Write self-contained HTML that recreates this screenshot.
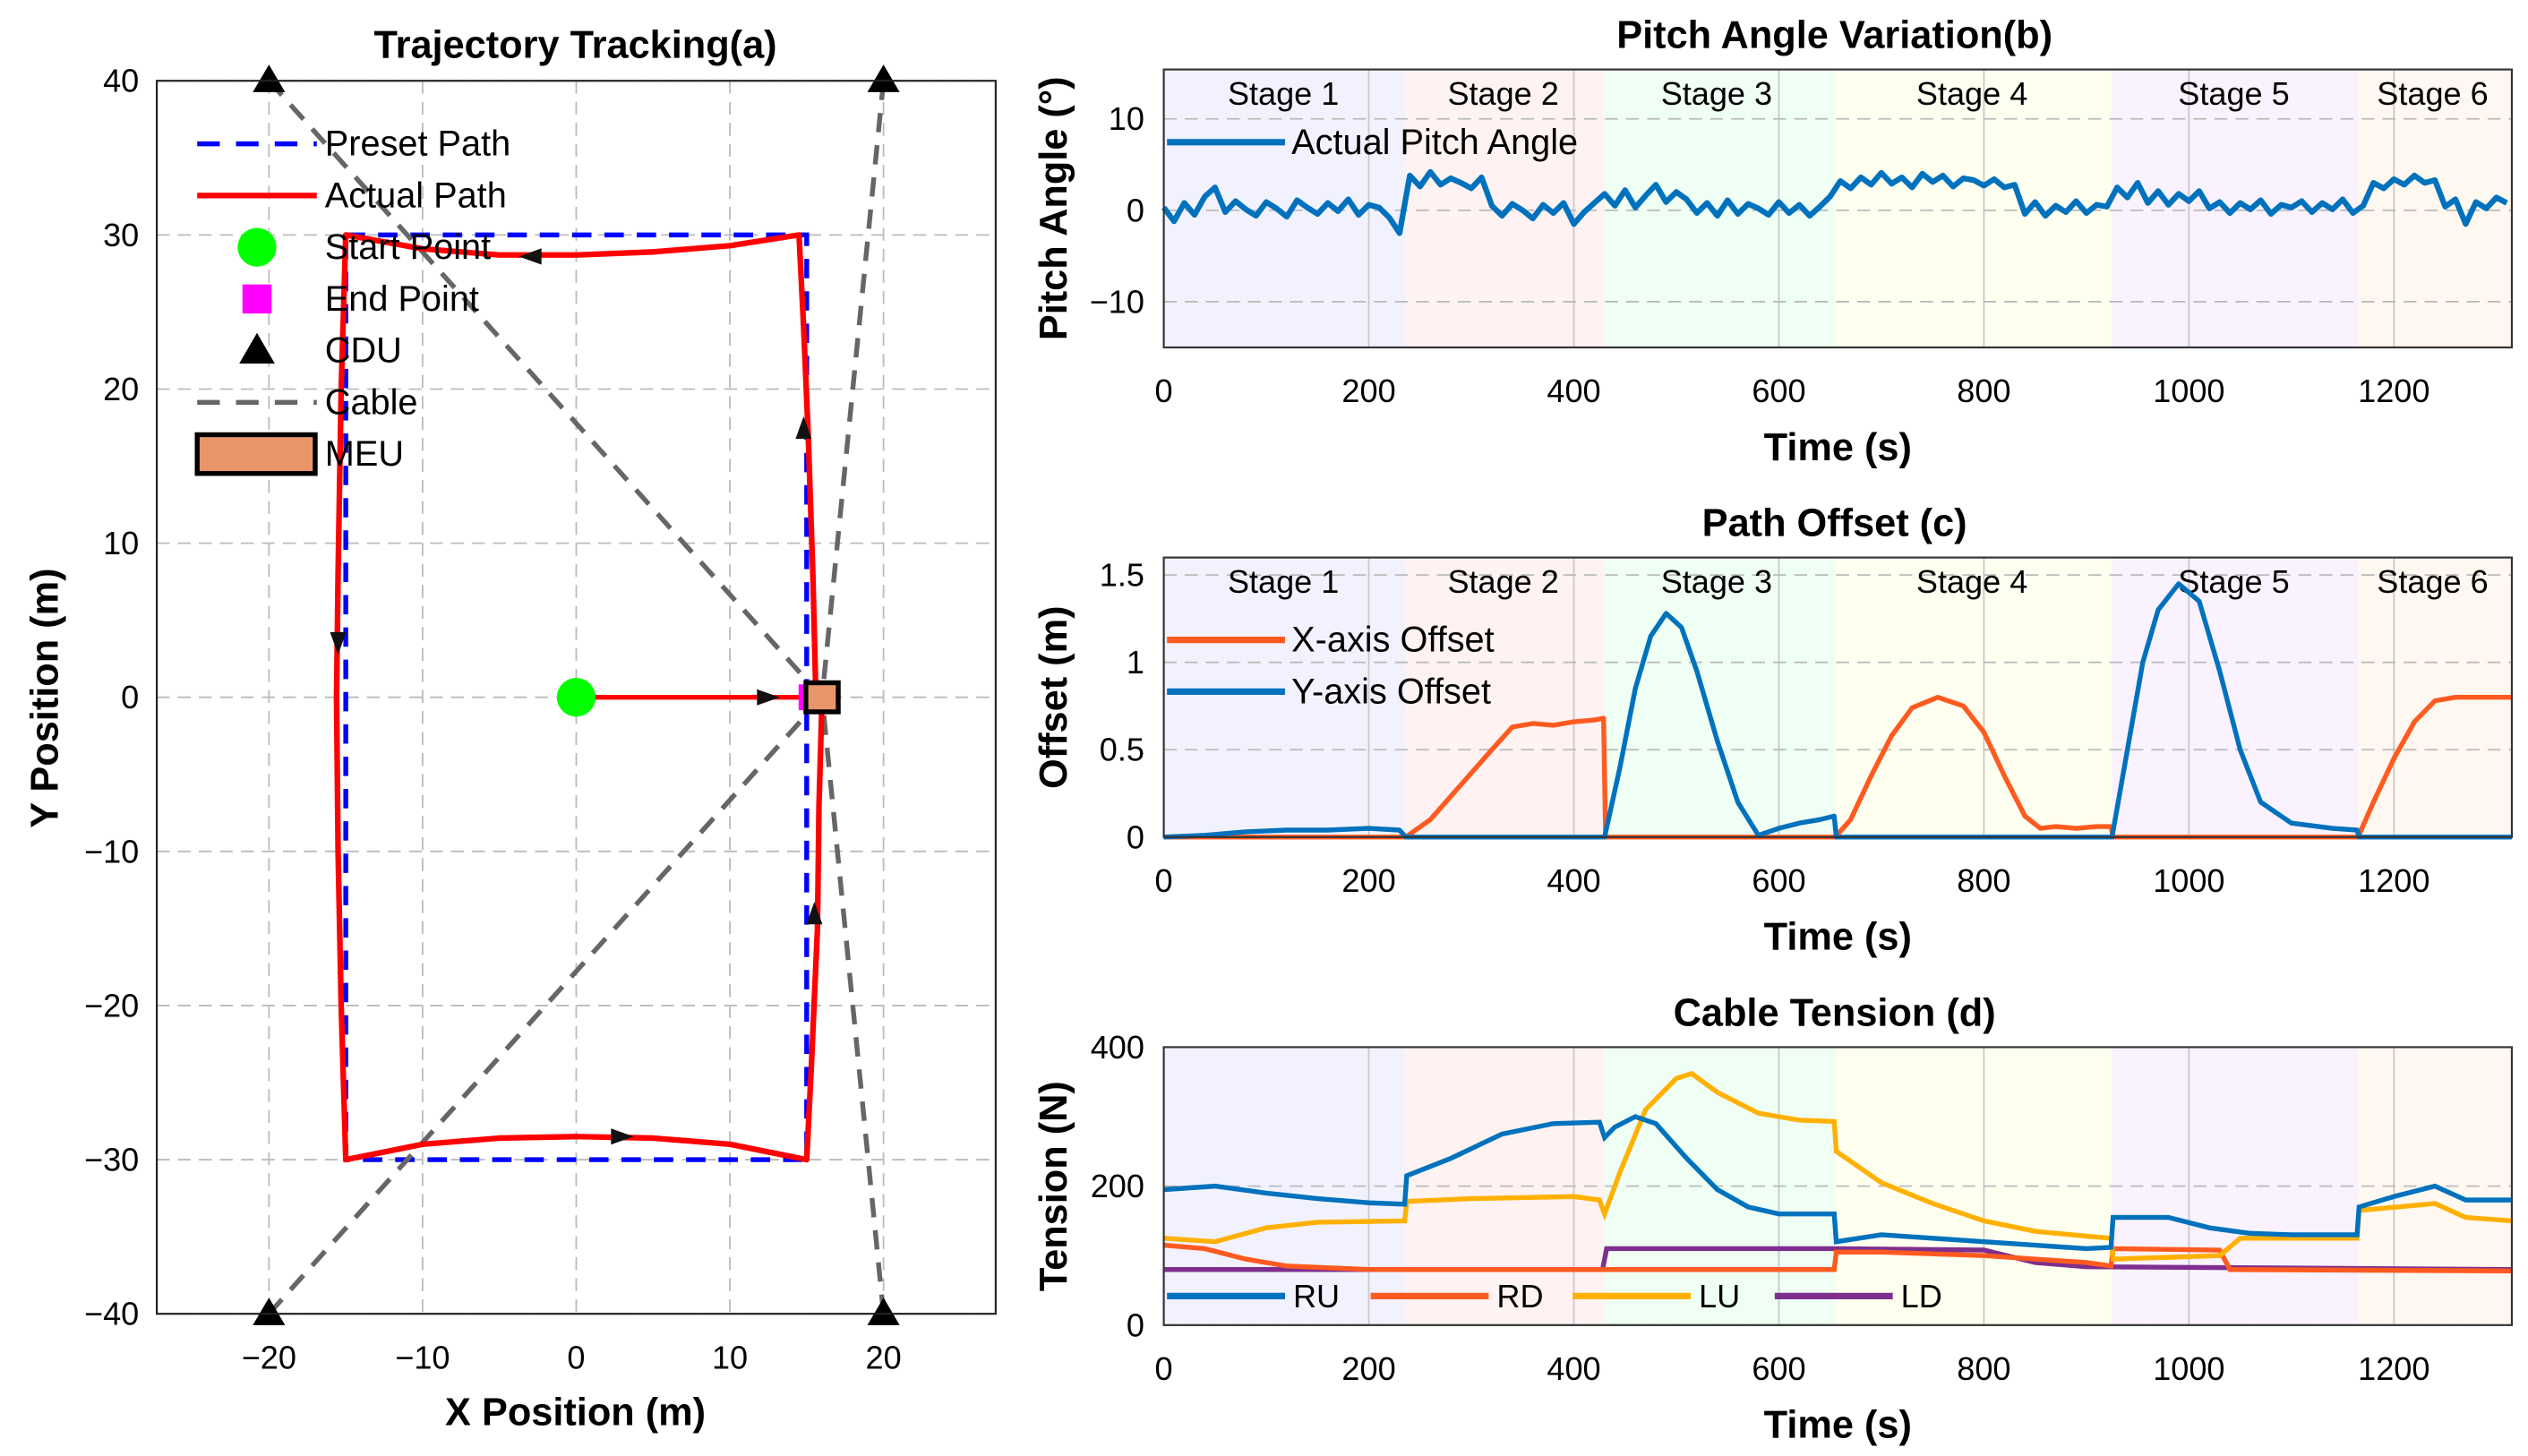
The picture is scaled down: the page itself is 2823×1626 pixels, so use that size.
<!DOCTYPE html>
<html><head><meta charset="utf-8"><style>
html,body{margin:0;padding:0;background:#fff}
svg{display:block;font-family:"Liberation Sans",sans-serif}
</style></head><body>
<svg id="fig" width="2823" height="1626" viewBox="0 0 1564 901" preserveAspectRatio="none" xmlns="http://www.w3.org/2000/svg"></svg>
<script>
// ---------- DATA ----------
const stageNames=["Stage 1","Stage 2","Stage 3","Stage 4","Stage 5","Stage 6"];
const stageBounds=[0,236,430,655,925,1165,1315];
const stageColors=["#f2f2ff","#fff2f2","#efffF4","#fffff0","#faf2ff","#fff8f0"];
const timeTicks=[0,200,400,600,800,1000,1200];
const pitchTicks=[-10,0,10];
const offsetTicks=[0,0.5,1,1.5];
const tensionTicks=[0,200,400];
// pitch every 10 s (0..1310)
const pitch=[0.3,-1.2,0.8,-0.5,1.5,2.5,-0.2,1.0,0.1,-0.6,
0.9,0.2,-0.7,1.1,0.3,-0.4,0.8,-0.1,1.2,-0.5,
0.6,0.3,-0.8,-2.5,3.8,2.6,4.2,2.8,3.5,3.0,
2.4,3.6,0.5,-0.6,0.7,0.0,-0.9,0.6,-0.3,0.8,
-1.5,-0.2,0.8,1.8,0.5,2.2,0.3,1.6,2.8,0.9,
2.0,1.2,-0.3,0.8,-0.6,1.1,-0.4,0.7,0.2,-0.5,
0.9,-0.3,0.6,-0.6,0.4,1.5,3.2,2.4,3.6,2.8,
4.1,2.9,3.6,2.5,4.0,3.1,3.8,2.6,3.5,3.3,
2.7,3.4,2.5,2.8,-0.4,0.9,-0.6,0.5,-0.2,1.0,
-0.3,0.6,0.4,2.5,1.4,3.0,0.8,2.1,0.6,1.8,
1.0,2.1,0.2,0.9,-0.3,0.8,0.1,1.1,-0.4,0.6,
0.3,1.0,-0.2,0.8,0.1,1.2,-0.3,0.5,3.0,2.4,
3.4,2.8,3.8,3.0,3.3,0.4,1.2,-1.5,0.9,0.2,
1.4,0.8];
// offsets (time, value)
const offsetXT=[0,236,260,290,320,340,360,380,400,420,429,431,655,670,690,710,730,755,780,800,820,840,855,870,890,910,924,926,1165,1180,1200,1220,1240,1260,1315];
const offsetXV=[0,0,0.1,0.3,0.5,0.63,0.65,0.64,0.66,0.67,0.68,0,0,0.1,0.35,0.58,0.74,0.8,0.75,0.6,0.35,0.12,0.05,0.06,0.05,0.06,0.06,0,0,0.2,0.45,0.66,0.78,0.8,0.8];
const offsetYT=[0,40,80,120,160,200,230,236,430,445,460,475,490,505,520,540,560,580,600,620,640,654,656,925,940,955,970,990,1010,1030,1050,1070,1100,1140,1164,1166,1315];
const offsetYV=[0,0.01,0.03,0.04,0.04,0.05,0.04,0,0,0.4,0.85,1.15,1.28,1.2,0.95,0.55,0.2,0.01,0.05,0.08,0.1,0.12,0,0,0.5,1.0,1.3,1.45,1.35,0.95,0.5,0.2,0.08,0.05,0.04,0,0];
// tensions (time, value)
const ruT=[0,50,100,150,200,235,237,280,330,380,425,430,440,460,480,510,540,570,600,654,656,700,750,800,850,900,924,926,980,1020,1060,1100,1164,1166,1200,1240,1270,1315];
const ruV=[195,200,190,182,176,174,215,240,275,290,292,270,285,300,290,240,195,170,160,160,120,130,125,120,115,110,112,155,155,140,132,130,130,170,185,200,180,180];
const rdT=[0,40,80,120,200,654,656,700,800,900,924,926,1030,1040,1315];
const rdV=[115,110,95,85,80,80,105,105,100,90,85,110,108,80,78];
const luT=[0,50,100,150,235,237,300,400,425,430,445,470,500,515,540,580,620,654,656,700,750,800,850,900,924,926,1030,1050,1164,1166,1240,1270,1315];
const luV=[125,120,140,148,150,178,182,185,180,160,220,310,355,362,335,305,295,293,250,205,175,150,135,128,125,95,100,125,125,165,175,155,150];
const ldT=[0,428,432,654,656,800,850,900,1315];
const ldV=[80,80,110,110,110,108,90,84,80];
// trajectory data
const presetX=[-15,15,15,-15,-15];
const presetY=[30,30,-30,-30,30];
const startLegX=[0,15.6];const startLegY=[0,0];
const actualX=[15.6,15.4,15.1,14.8,14.5,10,5,0,-5,-10,-15,-15.3,-15.5,-15.6,-15.5,-15.3,-15,-10,-5,0,5,10,15,15.3,15.7,15.8,16];
const actualY=[0,8,17,24,30,29.3,28.9,28.7,28.7,29.1,30,20,8,0,-10,-20,-30,-29,-28.6,-28.5,-28.6,-29,-30,-24,-15,-7,0];
const cduX=[-20,20,-20,20];const cduY=[40,40,-40,-40];
const meuX=16,meuY=0;
const axTicksX=[-20,-10,0,10,20];const axTicksY=[-40,-30,-20,-10,0,10,20,30,40];
</script>
<script>
const svg=document.getElementById('fig');const NS='http://www.w3.org/2000/svg';
function mk(tag,attrs,parent,name,inter){const e=document.createElementNS(NS,tag);for(const k in attrs)e.setAttribute(k,attrs[k]);


(parent||svg).appendChild(e);return e;}
function txt(s,x,y,size,opts,name,parent){opts=opts||{};const e=mk('text',Object.assign({x:x,y:y,'font-size':size,'text-anchor':opts.anchor||'middle','dominant-baseline':'central',fill:'#000','font-weight':opts.bold?'bold':'normal'},opts.tr?{transform:opts.tr}:{}),parent,name);e.textContent=s;return e;}
function lin(d0,d1,r0,r1){return v=>r0+(v-d0)/(d1-d0)*(r1-r0);}
function poly(xs,ys,sx,sy,attrs,name,parent){const pts=xs.map((v,i)=>sx(v).toFixed(2)+','+sy(ys[i]).toFixed(2)).join(' ');return mk('polyline',Object.assign({points:pts,fill:'none'},attrs),parent,name);}

// ---------- Panel A ----------
const gA=mk('g',{},svg,'trajectory-panel');
const AX=lin(-27.3,27.3,97,616),AY=lin(-40,40,813,50);
mk('rect',{x:97,y:50,width:519,height:763,fill:'#fff'},gA,'plot-area-a');
axTicksX.forEach(v=>{mk('line',{x1:AX(v),x2:AX(v),y1:50,y2:813,stroke:'#bbb','stroke-dasharray':'8,5','stroke-width':1},gA,'grid-x');txt(v<0?'\u2212'+(-v):String(v),AX(v),840,20,{},'x-tick-label',gA);});
axTicksY.forEach(v=>{mk('line',{x1:97,x2:616,y1:AY(v),y2:AY(v),stroke:'#bbb','stroke-dasharray':'8,5','stroke-width':1},gA,'grid-y');txt(v<0?'\u2212'+(-v):String(v),86,AY(v),20,{anchor:'end'},'y-tick-label',gA);});
poly(presetX,presetY,AX,AY,{stroke:'#0000ff','stroke-width':3,'stroke-dasharray':'12,8'},'preset-path',gA);
cduX.forEach((cx,i)=>mk('line',{x1:AX(cx),y1:AY(cduY[i]),x2:AX(meuX),y2:AY(meuY),stroke:'#666','stroke-width':3,'stroke-dasharray':'12,8'},gA,'cable-line'));
poly(startLegX,startLegY,AX,AY,{stroke:'#ff0000','stroke-width':3},'actual-path-start-leg',gA);
poly(actualX,actualY,AX,AY,{stroke:'#ff0000','stroke-width':3.5,'stroke-linejoin':'round'},'actual-path',gA);
function arrow(x,y,dir,name){const c=[AX(x),AY(y)];const s=7;let p;
 if(dir==='r')p=[[c[0]+s,c[1]],[c[0]-s,c[1]-5],[c[0]-s,c[1]+5]];
 if(dir==='l')p=[[c[0]-s,c[1]],[c[0]+s,c[1]-5],[c[0]+s,c[1]+5]];
 if(dir==='u')p=[[c[0],c[1]-s],[c[0]-5,c[1]+s],[c[0]+5,c[1]+s]];
 if(dir==='d')p=[[c[0],c[1]+s],[c[0]-5,c[1]-s],[c[0]+5,c[1]-s]];
 mk('polygon',{points:p.map(q=>q.join(',')).join(' '),fill:'#111'},gA,name);}
arrow(12.5,0,'r','arrow-start');arrow(14.8,17.5,'u','arrow-right-side');arrow(-3,28.6,'l','arrow-top');arrow(-15.5,3.5,'d','arrow-left');arrow(3,-28.5,'r','arrow-bottom');arrow(15.5,-14,'u','arrow-right-lower');
mk('circle',{cx:AX(0),cy:AY(0),r:12,fill:'#00ff00'},gA,'start-point');
mk('rect',{x:AX(15)-5,y:AY(0)-8,width:10,height:16,fill:'#ff00ff'},gA,'end-point');
mk('rect',{x:AX(meuX)-10,y:AY(meuY)-9,width:20,height:18,fill:'#e8956a',stroke:'#000','stroke-width':3},gA,'meu-box');
cduX.forEach((cx,i)=>{const x=AX(cx),y=AY(cduY[i]);mk('polygon',{points:`${x},${y-10} ${x-10},${y+7} ${x+10},${y+7}`,fill:'#000'},gA,'cdu-marker');});
mk('rect',{x:97,y:50,width:519,height:763,fill:'none',stroke:'#222','stroke-width':1.2},gA,'axes-box-a');
const LA=[89,121,153,185,217,249,281];
mk('line',{x1:122,x2:196,y1:LA[0],y2:LA[0],stroke:'#0000ff','stroke-width':3,'stroke-dasharray':'14,10'},gA,'legend-preset-line');
mk('line',{x1:122,x2:196,y1:LA[1],y2:LA[1],stroke:'#ff0000','stroke-width':3.5},gA,'legend-actual-line');
mk('circle',{cx:159,cy:LA[2],r:12,fill:'#00ff00'},gA,'legend-start-marker');
mk('rect',{x:150,y:LA[3]-9,width:18,height:18,fill:'#ff00ff'},gA,'legend-end-marker');
mk('polygon',{points:`159,${LA[4]-11} 148,${LA[4]+8} 170,${LA[4]+8}`,fill:'#000'},gA,'legend-cdu-marker');
mk('line',{x1:122,x2:196,y1:LA[5],y2:LA[5],stroke:'#666','stroke-width':3,'stroke-dasharray':'14,10'},gA,'legend-cable-line');
mk('rect',{x:122,y:LA[6]-12,width:73,height:24,fill:'#e8956a',stroke:'#000','stroke-width':3},gA,'legend-meu-marker');
["Preset Path","Actual Path","Start Point","End Point","CDU","Cable","MEU"].forEach((s,i)=>txt(s,201,LA[i],22,{anchor:'start'},'legend-label',gA));
txt('Trajectory Tracking(a)',356,28,24,{bold:true},'title-a',gA);
txt('X Position (m)',356,874,24,{bold:true},'x-axis-title-a',gA);
txt('Y Position (m)',28,432,24,{bold:true,tr:'rotate(-90 28 432)'},'y-axis-title-a',gA);

// ---------- time panels ----------
const TX=lin(0,1315,720,1554);
function timePanel(top,bot,y0,y1,ticks,fmt,title,ylabel,labels,name){
 const g=mk('g',{},svg,name);const Y=lin(y0,y1,bot,top);
 for(let i=0;i<6;i++)mk('rect',{x:TX(stageBounds[i]),y:top,width:TX(stageBounds[i+1])-TX(stageBounds[i]),height:bot-top,fill:stageColors[i]},g,'stage-band');
 timeTicks.forEach(v=>{mk('line',{x1:TX(v),x2:TX(v),y1:top,y2:bot,stroke:'#c8c8c8','stroke-width':1},g,'grid-x');txt(String(v),TX(v),bot+27,20,{},'x-tick-label',g);});
 ticks.forEach(v=>{mk('line',{x1:720,x2:1554,y1:Y(v),y2:Y(v),stroke:'#bbb','stroke-dasharray':'8,5','stroke-width':1},g,'grid-y');txt(fmt(v),708,Y(v),20,{anchor:'end'},'y-tick-label',g);});
 if(labels){const c=[794,930,1062,1220,1382,1505];stageNames.forEach((s,i)=>txt(s,c[i],top+15,20,{},'stage-label',g));}
 txt(title,1135,top-21,24,{bold:true},'panel-title',g);
 txt('Time (s)',1137,bot+62,24,{bold:true},'x-axis-title',g);
 const cy=(top+bot)/2;txt(ylabel,652,cy,24,{bold:true,tr:`rotate(-90 652 ${cy})`},'y-axis-title',g);
 return {g,Y};}
const times=pitch.map((_,i)=>i*10);
const fmtInt=v=>v<0?'\u2212'+(-v):String(v);
const B=timePanel(43,215,-15,15.4,pitchTicks,fmtInt,'Pitch Angle Variation(b)','Pitch Angle (\u00b0)',true,'pitch-panel');
poly(times,pitch,TX,B.Y,{stroke:'#0072bd','stroke-width':3.5,'stroke-linejoin':'round'},'pitch-line',B.g);
mk('line',{x1:722,x2:795,y1:88,y2:88,stroke:'#0072bd','stroke-width':4},B.g,'legend-pitch-line');
txt('Actual Pitch Angle',799,88,22,{anchor:'start'},'legend-pitch-label',B.g);
mk('rect',{x:720,y:43,width:834,height:172,fill:'none',stroke:'#333','stroke-width':1.2},B.g,'axes-box-b');

const C=timePanel(345,518,0,1.6,offsetTicks,v=>String(v),'Path Offset (c)','Offset (m)',true,'offset-panel');
poly(offsetXT,offsetXV,TX,C.Y,{stroke:'#ff5a1f','stroke-width':3,'stroke-linejoin':'round'},'offset-x-line',C.g);
poly(offsetYT,offsetYV,TX,C.Y,{stroke:'#0072bd','stroke-width':3,'stroke-linejoin':'round'},'offset-y-line',C.g);
mk('line',{x1:722,x2:795,y1:396,y2:396,stroke:'#ff5a1f','stroke-width':4},C.g,'legend-x-offset-line');
txt('X-axis Offset',799,396,22,{anchor:'start'},'legend-x-offset-label',C.g);
mk('line',{x1:722,x2:795,y1:428,y2:428,stroke:'#0072bd','stroke-width':4},C.g,'legend-y-offset-line');
txt('Y-axis Offset',799,428,22,{anchor:'start'},'legend-y-offset-label',C.g);
mk('rect',{x:720,y:345,width:834,height:173,fill:'none',stroke:'#333','stroke-width':1.2},C.g,'axes-box-c');

const D=timePanel(648,820,0,400,tensionTicks,v=>String(v),'Cable Tension (d)','Tension (N)',false,'tension-panel');
poly(ldT,ldV,TX,D.Y,{stroke:'#7e2f8e','stroke-width':3},'tension-ld-line',D.g);
poly(rdT,rdV,TX,D.Y,{stroke:'#ff5a1f','stroke-width':3},'tension-rd-line',D.g);
poly(luT,luV,TX,D.Y,{stroke:'#ffb000','stroke-width':3},'tension-lu-line',D.g);
poly(ruT,ruV,TX,D.Y,{stroke:'#0072bd','stroke-width':3},'tension-ru-line',D.g);
[['RU','#0072bd',722],['RD','#ff5a1f',848],['LU','#ffb000',973],['LD','#7e2f8e',1098]].forEach(e=>{
 mk('line',{x1:e[2],x2:e[2]+73,y1:802,y2:802,stroke:e[1],'stroke-width':4},D.g,'legend-'+e[0].toLowerCase()+'-line');
 txt(e[0],e[2]+78,802,20,{anchor:'start'},'legend-'+e[0].toLowerCase()+'-label',D.g);});
mk('rect',{x:720,y:648,width:834,height:172,fill:'none',stroke:'#333','stroke-width':1.2},D.g,'axes-box-d');
</script>
</body></html>
